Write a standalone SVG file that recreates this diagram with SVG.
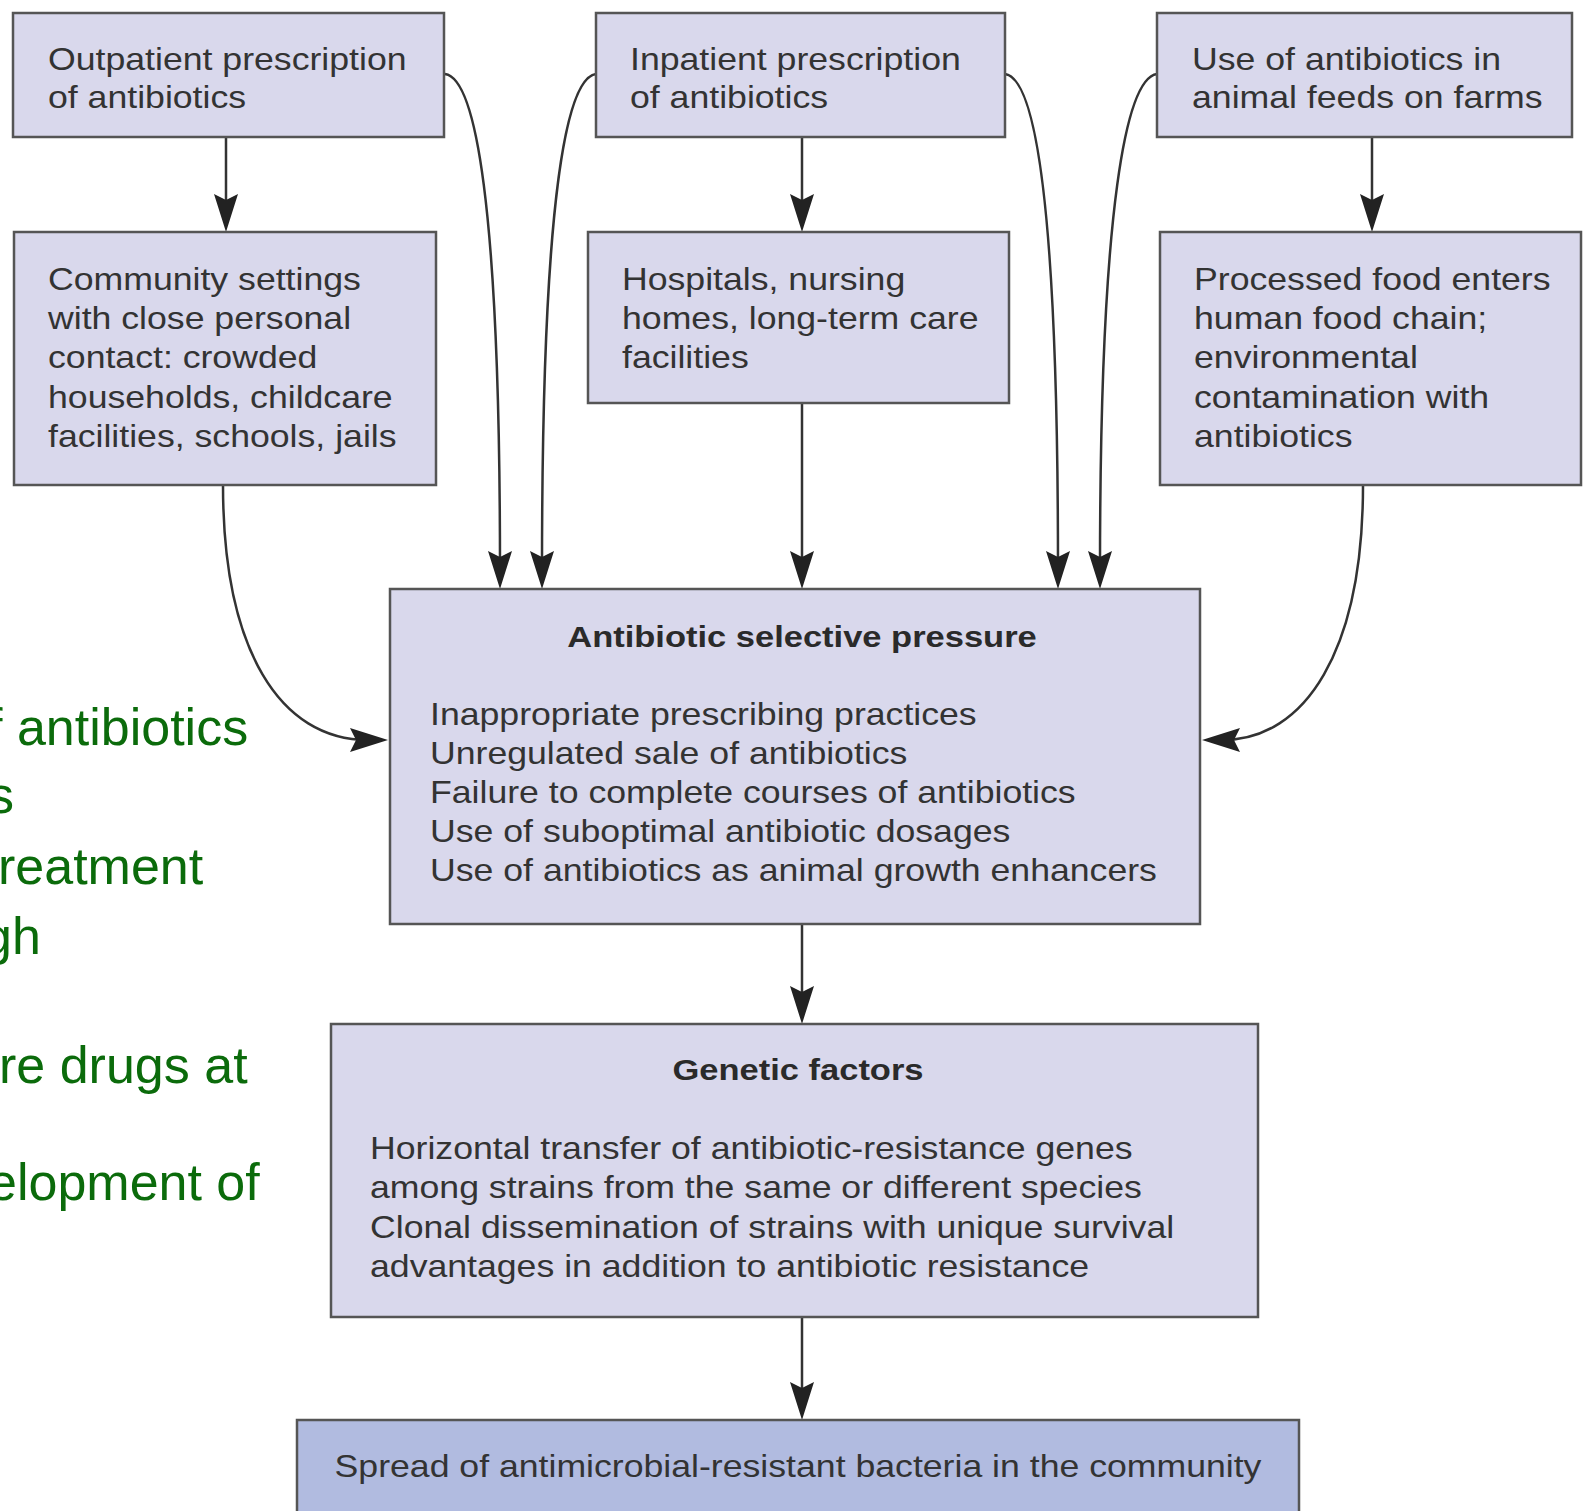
<svg xmlns="http://www.w3.org/2000/svg" width="1589" height="1511" viewBox="0 0 1589 1511">
  <style>
    .box { fill: #d9d8ec; stroke: #555; stroke-width: 2.5; }
    .box-out { fill: #b1bbe0; stroke: #555; stroke-width: 2.5; }
    .lbl { font-family: "Liberation Sans", Arial, Helvetica, sans-serif; font-size: 31px; fill: #333; }
    .ttl { font-family: "Liberation Sans", Arial, Helvetica, sans-serif; font-size: 30px; font-weight: bold; fill: #2a2a2a; text-anchor: middle; }
    .mid { text-anchor: middle; }
    .edge { fill: none; stroke: #333; stroke-width: 2.5; marker-end: url(#ah); }
    .side { font-family: "Liberation Sans", Arial, Helvetica, sans-serif; font-size: 52px; fill: #0b6b0b; }
  </style>
  <defs>
    <marker id="ah" viewBox="0 0 38 24" refX="18" refY="12" markerWidth="38" markerHeight="24" markerUnits="userSpaceOnUse" orient="auto">
      <path d="M0,0 L38,12 L0,24 L6,12 Z" fill="#222"/>
    </marker>
  </defs>

  <rect width="1589" height="1511" fill="#ffffff"/>

  <!-- slide text partly hidden behind the left margin -->
  <g id="side-notes">
    <text class="side" x="-12" y="745">f antibiotics</text>
    <text class="side" x="-12" y="813">s</text>
    <text class="side" x="-2" y="884">reatment</text>
    <text class="side" x="-17" y="954">gh</text>
    <text class="side" x="-1" y="1083">re drugs at</text>
    <text class="side" x="-12" y="1200">elopment of</text>
  </g>

  <!-- connectors -->
  <g id="connectors">
    <path class="edge" d="M226,137 L226,212"/>
    <path class="edge" d="M802,137 L802,212"/>
    <path class="edge" d="M1372,137 L1372,212"/>
    <path class="edge" d="M802,403 L802,569"/>
    <path class="edge" d="M802,924 L802,1004"/>
    <path class="edge" d="M802,1317 L802,1400"/>
    <path class="edge" d="M445,74 C475,78 500,200 500,569"/>
    <path class="edge" d="M596,74 C566,78 542,200 542,569"/>
    <path class="edge" d="M1005,74 C1035,78 1058,200 1058,569"/>
    <path class="edge" d="M1157,74 C1127,78 1100,200 1100,569"/>
    <path class="edge" d="M223,485 C223,650 280,740 368,740"/>
    <path class="edge" d="M1363,485 C1363,650 1306,740 1222,740"/>
  </g>

  <g id="outpatient">
    <rect class="box" x="13" y="13" width="431" height="124"/>
    <g transform="translate(48 0) scale(1.15 1)">
      <text class="lbl" y="70"><tspan x="0">Outpatient prescription</tspan><tspan x="0" dy="38.5">of antibiotics</tspan></text>
    </g>
  </g>

  <g id="inpatient">
    <rect class="box" x="596" y="13" width="409" height="124"/>
    <g transform="translate(630 0) scale(1.15 1)">
      <text class="lbl" y="70"><tspan x="0">Inpatient prescription</tspan><tspan x="0" dy="38.5">of antibiotics</tspan></text>
    </g>
  </g>

  <g id="farm-use">
    <rect class="box" x="1157" y="13" width="415" height="124"/>
    <g transform="translate(1192 0) scale(1.15 1)">
      <text class="lbl" y="70"><tspan x="0">Use of antibiotics in</tspan><tspan x="0" dy="38.5">animal feeds on farms</tspan></text>
    </g>
  </g>

  <g id="community">
    <rect class="box" x="14" y="232" width="422" height="253"/>
    <g transform="translate(48 0) scale(1.15 1)">
      <text class="lbl" y="290">
        <tspan x="0">Community settings</tspan>
        <tspan x="0" dy="39.2">with close personal</tspan>
        <tspan x="0" dy="39.2">contact: crowded</tspan>
        <tspan x="0" dy="39.2">households, childcare</tspan>
        <tspan x="0" dy="39.2">facilities, schools, jails</tspan>
      </text>
    </g>
  </g>

  <g id="hospitals">
    <rect class="box" x="588" y="232" width="421" height="171"/>
    <g transform="translate(622 0) scale(1.15 1)">
      <text class="lbl" y="290">
        <tspan x="0">Hospitals, nursing</tspan>
        <tspan x="0" dy="39.2">homes, long-term care</tspan>
        <tspan x="0" dy="39.2">facilities</tspan>
      </text>
    </g>
  </g>

  <g id="food-chain">
    <rect class="box" x="1160" y="232" width="421" height="253"/>
    <g transform="translate(1194 0) scale(1.15 1)">
      <text class="lbl" y="290">
        <tspan x="0">Processed food enters</tspan>
        <tspan x="0" dy="39.2">human food chain;</tspan>
        <tspan x="0" dy="39.2">environmental</tspan>
        <tspan x="0" dy="39.2">contamination with</tspan>
        <tspan x="0" dy="39.2">antibiotics</tspan>
      </text>
    </g>
  </g>

  <g id="selective-pressure">
    <rect class="box" x="390" y="589" width="810" height="335"/>
    <g transform="translate(802 0) scale(1.15 1)">
      <text class="ttl" x="0" y="647">Antibiotic selective pressure</text>
    </g>
    <g transform="translate(430 0) scale(1.15 1)">
      <text class="lbl" y="725">
        <tspan x="0">Inappropriate prescribing practices</tspan>
        <tspan x="0" dy="39">Unregulated sale of antibiotics</tspan>
        <tspan x="0" dy="39">Failure to complete courses of antibiotics</tspan>
        <tspan x="0" dy="39">Use of suboptimal antibiotic dosages</tspan>
        <tspan x="0" dy="39">Use of antibiotics as animal growth enhancers</tspan>
      </text>
    </g>
  </g>

  <g id="genetic-factors">
    <rect class="box" x="331" y="1024" width="927" height="293"/>
    <g transform="translate(798 0) scale(1.15 1)">
      <text class="ttl" x="0" y="1080">Genetic factors</text>
    </g>
    <g transform="translate(370 0) scale(1.15 1)">
      <text class="lbl" y="1159">
        <tspan x="0">Horizontal transfer of antibiotic-resistance genes</tspan>
        <tspan x="0" dy="39.3">among strains from the same or different species</tspan>
        <tspan x="0" dy="39.3">Clonal dissemination of strains with unique survival</tspan>
        <tspan x="0" dy="39.3">advantages in addition to antibiotic resistance</tspan>
      </text>
    </g>
  </g>

  <g id="community-spread">
    <rect class="box-out" x="297" y="1420" width="1002" height="110"/>
    <g transform="translate(798 0) scale(1.15 1)">
      <text class="lbl mid" x="0" y="1477">Spread of antimicrobial-resistant bacteria in the community</text>
    </g>
  </g>
</svg>
